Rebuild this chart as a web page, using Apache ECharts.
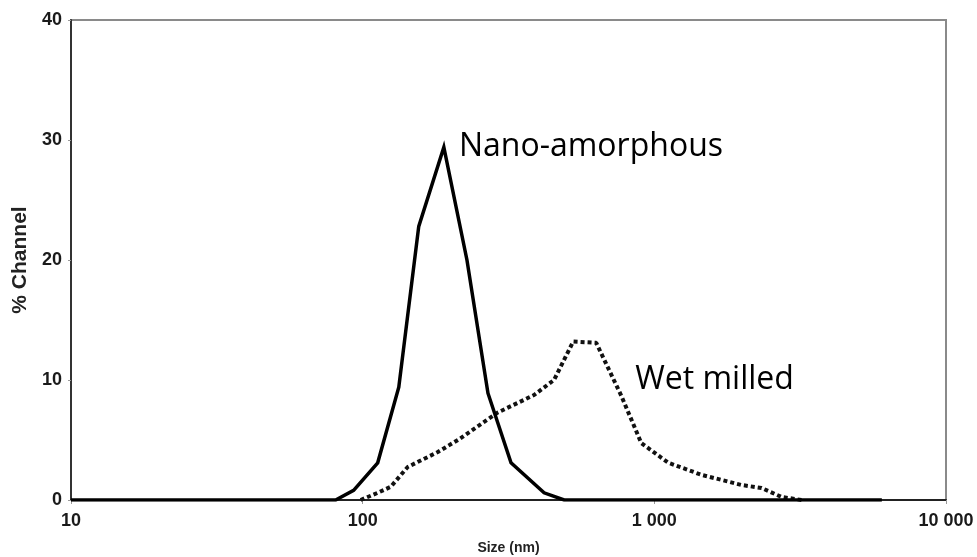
<!DOCTYPE html>
<html>
<head>
<meta charset="utf-8">
<script src="https://cdn.jsdelivr.net/npm/echarts@6/dist/echarts.min.js"></script>
<style>
  html, body { margin: 0; padding: 0; background: #fff; }
  #chart { width: 977px; height: 557px; }
</style>
</head>
<body>
<div id="chart"></div>
<script>
// Particle size distribution (% per channel) for two preparations
const nanoSize  = [10, 80.8, 93.1, 112.6, 133.0, 155.7, 189.8, 227.8, 268.9, 322.6, 418.8, 490.7, 6026];
const nanoPct   = [0, 0, 0.8, 3.1, 9.4, 22.8, 29.4, 20.0, 8.9, 3.1, 0.6, 0, 0];

const wetSize   = [98.4, 112.6, 124.8, 142.7, 181.0, 212.1, 291.0, 387.0, 453.0, 527.0, 632.0, 673.0, 770.0, 902.0, 1117, 1450, 1991, 2332, 2732, 3200];
const wetPct    = [0, 0.6, 1.1, 2.75, 4.0, 5.0, 7.3, 8.75, 10.0, 13.2, 13.1, 11.7, 8.7, 4.75, 3.1, 2.1, 1.25, 1.0, 0.25, 0];

const yTicks = [0, 10, 20, 30, 40];
const xTicks = [10, 100, 1000, 10000];

// Curve annotations, placed in data coordinates
const notes = [
  { text: 'Nano-amorphous', at: [213.8, 29.45] },
  { text: 'Wet milled',     at: [860, 10.0] }
];

const pairs = (xs, ys) => xs.map((x, i) => [x, ys[i]]);
const fmtThousands = v => String(Math.round(v)).replace(/\B(?=(\d{3})+(?!\d))/g, ' ');

const tickFont = { fontFamily: 'Liberation Sans', fontSize: 18, fontWeight: 'bold', color: '#1a1a1a' };

const chart = echarts.init(document.getElementById('chart'), null, { renderer: 'canvas' });

chart.setOption({
  animation: false,
  backgroundColor: '#fff',
  grid: {
    left: 71, right: 31, top: 20, bottom: 57,
    outerBoundsMode: 'none', containLabel: false,
    show: true, borderColor: '#8a8a8a', borderWidth: 2, backgroundColor: 'transparent'
  },
  xAxis: {
    type: 'log', logBase: 10, min: xTicks[0], max: xTicks[xTicks.length - 1],
    name: 'Size (nm)', nameLocation: 'middle', nameGap: 41,
    nameTextStyle: { fontFamily: 'Liberation Sans', fontSize: 14, fontWeight: 'bold', color: '#222' },
    axisLine: { show: true, lineStyle: { color: '#222', width: 2 } },
    axisTick: { show: true, length: 4, lineStyle: { color: '#999', width: 1 } },
    minorTick: { show: false },
    splitLine: { show: false },
    axisLabel: Object.assign({ margin: 12, formatter: v => fmtThousands(v) }, tickFont)
  },
  yAxis: {
    type: 'value', min: yTicks[0], max: yTicks[yTicks.length - 1], interval: 10,
    name: '% Channel', nameLocation: 'middle', nameGap: 40, nameRotate: 90,
    nameTextStyle: { fontFamily: 'Liberation Sans', fontSize: 21, fontWeight: 'bold', color: '#222' },
    axisLine: { show: true, lineStyle: { color: '#333', width: 2 } },
    axisTick: { show: true, length: 3, lineStyle: { color: '#999', width: 1 } },
    splitLine: { show: false },
    axisLabel: Object.assign({ margin: 9 }, tickFont)
  },
  series: [
    {
      name: 'Wet milled', type: 'line', data: pairs(wetSize, wetPct),
      showSymbol: false, symbol: 'none', z: 2,
      lineStyle: { color: '#111', width: 4, type: [4, 3], cap: 'butt' }
    },
    {
      name: 'Nano-amorphous', type: 'line', data: pairs(nanoSize, nanoPct),
      showSymbol: false, symbol: 'none', z: 3,
      lineStyle: { color: '#000', width: 3.5, join: 'miter' }
    }
  ]
});

// Place the curve annotations at their data positions
chart.setOption({
  graphic: notes.map(n => {
    const p = chart.convertToPixel({ gridIndex: 0 }, n.at);
    return {
      type: 'text', x: p[0], y: p[1], z: 10,
      style: {
        text: n.text, fill: '#000',
        font: '32px "Open Sans"', textVerticalAlign: 'middle', textAlign: 'left'
      }
    };
  })
});
</script>
</body>
</html>
